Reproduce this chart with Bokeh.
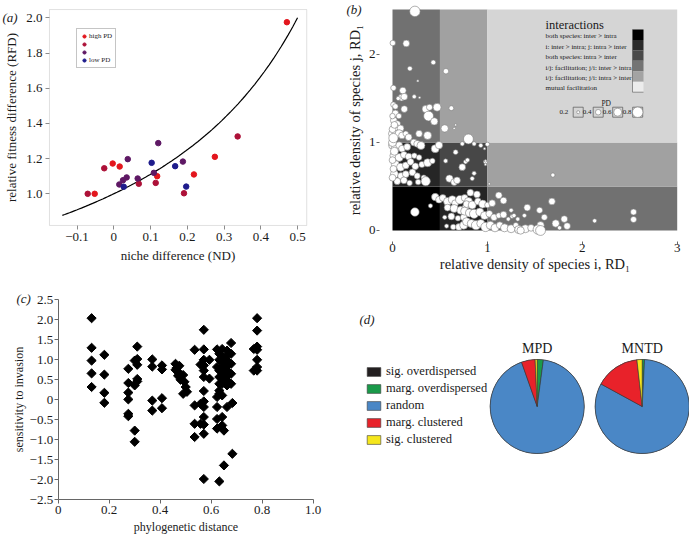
import numpy as np
from bokeh.plotting import figure
from bokeh.models import (Range1d, FixedTicker, Legend, LegendItem, Label, ColumnDataSource,
                          BoxAnnotation)
from bokeh.layouts import row, column
from bokeh.embed import file_html
from bokeh.resources import INLINE
from bokeh.core.properties import value

SERIF = "Liberation Serif"
TXT = "#1a1a1a"

# ---------------- data: panel (a)
a_nd = [-0.071, -0.052, -0.026, -0.003, 0.016, 0.015, 0.025, 0.027, 0.035, 0.038, 0.065, 0.068,
        0.103, 0.109, 0.114, 0.118, 0.121, 0.167, 0.188, 0.191, 0.197, 0.218, 0.275, 0.337, 0.471]
a_rfd = [1.000, 1.000, 1.145, 1.172, 1.155, 1.053, 1.077, 1.040, 1.093, 1.197, 1.087, 1.057,
         1.176, 1.119, 1.062, 1.100, 1.288, 1.157, 1.183, 1.003, 1.041, 1.110, 1.210, 1.326, 1.975]
a_cls = [1, 0, 1, 0, 0, 2, 2, 3, 2, 2, 2, 1, 3, 2, 1, 0, 2, 3, 2, 1, 3, 0, 0, 1, 0]
a_class_labels = ["high PD", " ", "  ", "low PD"]
a_class_colors = ["#e3161d", "#ad1138", "#5e1864", "#1e1c8c"]
a_xticks = [-0.1, 0.0, 0.1, 0.2, 0.3, 0.4, 0.5]
a_xlabels = ["\u22120.1", "0", "0.1", "0.2", "0.3", "0.4", "0.5"]
a_yticks = [1.0, 1.2, 1.4, 1.6, 1.8, 2.0]
a_ylabels = ["1.0", "1.2", "1.4", "1.6", "1.8", "2.0"]
a_box = (-0.175, 0.525, 0.82, 2.047)

# ---------------- data: panel (b)
b_box = (0.0, 3.0, 0.0, 2.51)
b_reg_x0 = [0, 0.5, 0, 0.5, 0, 0.5, 1, 1, 1]
b_reg_x1 = [0.5, 1, 0.5, 1, 0.5, 1, 3, 3, 3]
b_reg_y0 = [0, 0, 0.5, 0.5, 1, 1, 0, 0.5, 1]
b_reg_y1 = [0.5, 0.5, 1, 1, 2.51, 2.51, 0.5, 1, 2.51]
b_reg_col = ["#000000", "#242424", "#262626", "#474747", "#717171", "#a1a1a1", "#717171", "#a1a1a1", "#d5d5d5"]
b_leg_labels = ["both species: inter > intra", "i: inter > intra; j: intra > inter",
                "both species: intra > inter", "i/j: facilitation; j/i: inter > intra",
                "i/j: facilitation; j/i: intra > inter", "mutual facilitation"]
b_leg_cols = ["#000000", "#2a2a2a", "#4a4a4a", "#747474", "#a3a3a3", "#ececec"]
b_pd_keys = [0.2, 0.4, 0.6, 0.8]
b_pts = [
    (0.236, 2.49, 0.8), (0.003, 2.13, 0.4), (0.145, 2.125, 0.5), (0.43, 1.91, 0.35), (0.183, 1.84, 0.35),
    (0.563, 1.81, 0.4), (0.267, 1.70, 0.15), (0.01, 1.62, 0.4), (0.109, 1.59, 0.5), (0.095, 1.51, 0.5),
    (0.124, 1.52, 0.5), (0.06, 1.50, 0.3), (0.229, 1.52, 0.3), (0.285, 1.51, 0.15), (0.01, 1.43, 0.4),
    (0.03, 1.41, 0.4), (0.124, 1.38, 0.5), (0.35, 1.38, 0.55), (0.39, 1.40, 0.45), (0.47, 1.40, 0.6),
    (0.62, 1.39, 0.35), (0.03, 1.33, 0.5), (0.067, 1.30, 0.4), (0.38, 1.30, 0.75), (0.44, 1.24, 0.55),
    (0.55, 1.16, 0.55), (0.665, 1.20, 0.15), (0.65, 1.16, 0.15), (0.014, 1.25, 0.5), (0.05, 1.21, 0.5),
    (0.025, 1.17, 0.6), (0.085, 1.16, 0.5), (0.0, 1.10, 0.6), (0.03, 1.10, 0.5), (0.07, 1.10, 0.6),
    (0.1, 1.08, 0.5), (0.14, 1.10, 0.4), (0.17, 1.06, 0.5), (0.28, 1.10, 0.5), (0.37, 1.08, 0.6),
    (0.225, 1.0, 0.5), (0.26, 0.985, 0.5), (0.30, 0.966, 0.6), (0.0, 0.97, 0.6), (0.03, 0.94, 0.6),
    (0.07, 0.97, 0.5), (0.1, 0.93, 0.5), (0.155, 0.95, 0.5), (0.80, 1.04, 0.75), (0.45, 0.93, 0.6),
    (0.49, 0.97, 0.55), (0.665, 0.89, 0.35), (0.735, 0.985, 0.3), (0.015, 0.85, 0.6), (0.07, 0.83, 0.6),
    (0.12, 0.86, 0.5), (0.17, 0.84, 0.5), (0.23, 0.85, 0.4), (0.28, 0.83, 0.4), (0.03, 0.75, 0.6),
    (0.085, 0.72, 0.6), (0.14, 0.74, 0.5), (0.19, 0.78, 0.5), (0.24, 0.73, 0.5), (0.31, 0.75, 0.45),
    (0.37, 0.77, 0.6), (0.42, 0.79, 0.4), (0.56, 0.79, 0.3), (0.77, 0.78, 0.3), (0.02, 0.64, 0.6),
    (0.09, 0.62, 0.5), (0.14, 0.64, 0.5), (0.21, 0.66, 0.5), (0.26, 0.62, 0.45), (0.33, 0.60, 0.4),
    (0.05, 0.56, 0.5), (0.12, 0.57, 0.5), (0.18, 0.54, 0.4), (0.27, 0.55, 0.4), (0.35, 0.56, 0.7),
    (0.60, 0.59, 0.55), (0.65, 0.55, 0.5), (0.68, 0.57, 0.5), (0.236, 0.21, 0.65), (0.40, 0.28, 0.3),
    (0.45, 0.38, 0.55), (0.49, 0.35, 0.5), (0.53, 0.37, 0.5), (0.58, 0.33, 0.6), (0.63, 0.35, 0.6),
    (0.66, 0.31, 0.5), (0.71, 0.35, 0.65), (0.76, 0.37, 0.5), (0.80, 0.33, 0.6), (0.58, 0.26, 0.5),
    (0.65, 0.25, 0.6), (0.72, 0.23, 0.6), (0.77, 0.26, 0.5), (0.55, 0.15, 0.3), (0.62, 0.16, 0.5),
    (0.69, 0.14, 0.4), (0.75, 0.15, 0.5), (0.57, 0.05, 0.3), (0.64, 0.04, 0.4), (0.70, 0.04, 0.5),
    (0.75, 0.06, 0.6), (0.86, 0.985, 0.3), (0.93, 0.966, 0.3), (1.0, 0.98, 0.3), (0.79, 0.80, 0.3),
    (0.98, 0.78, 0.3), (0.735, 0.72, 0.5), (0.86, 0.65, 0.3), (0.84, 0.59, 0.3), (1.02, 0.53, 0.15),
    (1.12, 0.40, 0.5), (1.17, 0.34, 0.5), (0.82, 0.43, 0.5), (0.89, 0.41, 0.5), (0.78, 0.30, 0.5),
    (0.84, 0.29, 0.6), (0.90, 0.33, 0.5), (0.95, 0.30, 0.6), (1.00, 0.29, 0.4), (1.05, 0.31, 0.5),
    (0.76, 0.22, 0.6), (0.81, 0.20, 0.6), (0.86, 0.19, 0.7), (0.92, 0.21, 0.6), (0.97, 0.17, 0.6),
    (1.02, 0.19, 0.5), (1.07, 0.15, 0.5), (1.12, 0.17, 0.4), (1.17, 0.18, 0.5), (1.22, 0.13, 0.3),
    (1.26, 0.16, 0.3), (0.78, 0.10, 0.6), (0.83, 0.08, 0.6), (0.88, 0.06, 0.7), (0.93, 0.08, 0.6),
    (0.98, 0.04, 0.7), (1.03, 0.06, 0.6), (1.08, 0.03, 0.6), (1.13, 0.06, 0.5), (1.18, 0.03, 0.6),
    (1.25, 0.02, 0.6), (1.30, 0.06, 0.4), (1.42, 0.26, 0.5), (1.55, 0.23, 0.45), (1.60, 0.15, 0.45),
    (1.56, 0.06, 0.55), (1.33, 0.01, 0.6), (1.40, 0.02, 0.6), (1.46, 0.03, 0.5), (1.53, 0.01, 0.7),
    (0.97, 0.93, 0.15), (0.98, 0.79, 0.15), (0.98, 0.75, 0.15), (1.69, 0.63, 0.3), (1.68, 0.33, 0.5),
    (1.81, 0.13, 0.5), (1.72, 0.08, 0.55), (1.84, 0.05, 0.5), (2.13, 0.11, 0.3), (2.54, 0.21, 0.45),
    (2.54, 0.125, 0.45), (1.56, 0.0, 0.75), (1.35, 0.0, 0.55), (1.32, 0.13, 0.3), (1.28, 0.17, 0.3),
    (1.25, 0.23, 0.3), (1.39, 0.17, 0.3), (1.76, 0.03, 0.3), (0.0, 0.60, 0.5), (0.01, 0.70, 0.5),
    (0.0, 0.80, 0.5), (0.02, 0.90, 0.6), (0.0, 1.00, 0.6), (0.01, 1.05, 0.7), (0.0, 1.15, 0.5),
    (0.02, 1.20, 0.5), (0.0, 1.30, 0.4),
]
b_rdi = [p[0] for p in b_pts]
b_rdj = [p[1] for p in b_pts]
b_pd = [p[2] for p in b_pts]

# ---------------- data: panel (c)
c_pts = [
    (0.131, 2.04), (0.131, 1.30), (0.131, 0.98), (0.131, 0.66), (0.131, 0.32),
    (0.181, 1.125), (0.181, 0.63), (0.181, 0.175), (0.181, -0.075),
    (0.275, 0.775), (0.275, 0.42), (0.275, 0.18), (0.275, 0.01), (0.275, -0.35), (0.275, -0.41),
    (0.300, 0.98), (0.300, 0.36), (0.300, -0.77), (0.300, -1.05),
    (0.310, 1.33), (0.310, 1.02), (0.310, 0.875), (0.310, 0.52), (0.310, 0.46),
    (0.369, 1.01), (0.369, 0.83), (0.369, -0.02), (0.369, -0.27),
    (0.407, 0.86), (0.407, 0.76), (0.407, 0.04), (0.407, -0.21),
    (0.46, 0.90), (0.465, 0.80), (0.47, 0.70), (0.47, 0.60), (0.48, 0.50), (0.49, 0.62), (0.495, 0.45),
    (0.50, 0.32), (0.505, 0.20), (0.49, 0.15), (0.46, 0.75), (0.475, 0.85),
    (0.535, 1.25), (0.535, -0.14), (0.535, -0.60), (0.535, -0.93),
    (0.571, 1.75), (0.571, 1.26), (0.571, 1.0), (0.571, 0.86), (0.571, 0.73), (0.571, 0.57),
    (0.571, 0.22), (0.571, -0.04), (0.571, -0.18), (0.571, -0.43), (0.571, -0.62), (0.571, -0.85),
    (0.571, -1.98), (0.558, 0.88), (0.558, -0.10), (0.558, -0.60), (0.593, 0.53), (0.593, 1.0),
    (0.623, 1.26), (0.623, 0.82), (0.623, 0.07), (0.623, -0.18), (0.623, -0.48), (0.623, -0.72),
    (0.632, -2.04), (0.632, 1.15), (0.632, 1.0), (0.632, 0.73), (0.632, 0.57), (0.632, 0.40),
    (0.632, 0.23), (0.632, 0.15), (0.643, 1.27), (0.643, 0.82), (0.643, 0.40), (0.643, 0.11),
    (0.643, -0.43), (0.643, -0.64), (0.650, 1.05), (0.650, 0.90), (0.650, 0.65), (0.650, 0.48),
    (0.650, -0.77), (0.650, -1.64), (0.662, 1.23), (0.662, 1.10), (0.662, 0.98), (0.662, 0.86),
    (0.662, 0.73), (0.662, 0.61), (0.662, 0.48), (0.662, 0.36), (0.662, -0.18),
    (0.678, 1.42), (0.678, 1.15), (0.678, 0.90), (0.678, 0.65), (0.678, 0.40),
    (0.683, -0.08), (0.683, -1.35),
    (0.780, 2.04), (0.780, 1.73), (0.780, 1.33), (0.780, 1.25), (0.780, 1.0), (0.780, 0.82), (0.780, 0.73),
    (0.767, 1.27), (0.767, 0.73),
]
c_dist = [p[0] for p in c_pts]
c_sens = [p[1] for p in c_pts]
c_box = (0.0, 1.0, -2.5, 2.5)
c_xticks = [0.0, 0.2, 0.4, 0.6, 0.8, 1.0]
c_xlabels = ["0", "0.2", "0.4", "0.6", "0.8", "1.0"]
c_yticks = [-2.5, -2.0, -1.5, -1.0, -0.5, 0.0, 0.5, 1.0, 1.5, 2.0, 2.5]
c_ylabels = ["\u22122.5", "\u22122.0", "\u22121.5", "\u22121.0", "\u22120.5", "0", "0.5", "1.0", "1.5", "2.0", "2.5"]

# ---------------- data: panel (d)
d_categories = ["sig. overdispersed", "marg. overdispersed", "random", "marg. clustered", "sig. clustered"]
d_colors = ["#231f20", "#1a9a4a", "#4a87c6", "#e8222a", "#f5e61c"]
d_mpd_pct = [0.0, 2.1, 92.5, 4.7, 0.7]
d_mntd_pct = [0.0, 0.8, 82.15, 15.25, 1.8]
d_titles = ["MPD", "MNTD"]


def base_fig(w, h, xr, yr, **kw):
    # the frame fills the whole canvas; axes are drawn at fixed data locations
    p = figure(width=w, height=h, x_range=Range1d(*xr), y_range=Range1d(*yr),
               output_backend="svg", toolbar_location=None, min_border=0, **kw)
    p.grid.visible = False
    p.background_fill_color = "white"
    p.border_fill_color = "white"
    p.outline_line_color = None
    return p


def style_axes(p, box, tick_px, lab_px):
    p.xaxis.fixed_location = box[2]
    p.yaxis.fixed_location = box[0]
    p.xaxis.bounds = (box[0], box[1])
    p.yaxis.bounds = (box[2], box[3])
    for ax in p.axis:
        ax.major_label_text_font = SERIF
        ax.major_label_text_font_size = tick_px
        ax.major_label_text_color = TXT
        ax.axis_label_text_font = SERIF
        ax.axis_label_text_font_size = lab_px
        ax.axis_label_text_font_style = "normal"
        ax.axis_label_text_color = TXT
        ax.minor_tick_line_color = None


# ================= panel (a)  (canvas: page x 0..345, y 0..275)
pa = base_fig(345, 275, (-0.3083, 0.6305), (0.5358, 2.0983))
pa.add_layout(BoxAnnotation(left=a_box[0], right=a_box[1], bottom=a_box[2], top=a_box[3],
                            fill_alpha=0, line_color="#9c9c9c", line_width=1))
curve_nd = np.linspace(-0.14, 0.5, 100)
pa.line(curve_nd, 1.0 / (1.0 - curve_nd), line_color="black", line_width=1.2)
a_items = []
for k in range(4):
    xs = [a_nd[i] for i in range(len(a_nd)) if a_cls[i] == k]
    ys = [a_rfd[i] for i in range(len(a_nd)) if a_cls[i] == k]
    r = pa.scatter(xs, ys, marker="circle", size=5.5, fill_color=a_class_colors[k], line_color=a_class_colors[k])
    a_items.append(LegendItem(label=a_class_labels[k], renderers=[r]))
leg_a = Legend(items=a_items, location=(76, 207), label_text_font=SERIF, label_text_font_size="7px",
               label_text_color=TXT, glyph_width=8, glyph_height=8, label_height=7, label_standoff=1,
               spacing=0, padding=3, margin=0, border_line_color="#8c8c8c", border_line_width=0.8,
               background_fill_color="white")
pa.add_layout(leg_a)
pa.xaxis.ticker = FixedTicker(ticks=a_xticks)
pa.xaxis.major_label_overrides = dict(zip(a_xticks, a_xlabels))
pa.yaxis.ticker = FixedTicker(ticks=a_yticks)
pa.yaxis.major_label_overrides = dict(zip(a_yticks, a_ylabels))
pa.xaxis.axis_label = "niche difference (ND)"
pa.yaxis.axis_label = "relative fitness difference (RFD)"
style_axes(pa, a_box, "13px", "13px")
for ax in pa.axis:
    ax.axis_line_color = None
    ax.major_tick_line_color = "#8c8c8c"
    ax.major_tick_in = 0
    ax.major_tick_out = 4
    ax.major_label_standoff = 3
    ax.axis_label_standoff = 4
pa.xaxis.major_label_standoff = 4
pa.xaxis.axis_label_standoff = 3
pa.add_layout(Label(x=-0.303, y=2.0, text="(a)", text_font=SERIF, text_font_size="13px",
                    text_font_style="italic", text_baseline="middle", text_color=TXT))

# ================= panel (b)  (canvas: page x 345..689, y 0..275)
pb = base_fig(344, 275, (-0.4953, 3.1296), (-0.5114, 2.6136))
pb.quad(left=b_reg_x0, right=b_reg_x1, bottom=b_reg_y0, top=b_reg_y1, fill_color=b_reg_col, line_color=None)
b_sizes = [12.5 * v + 0.5 for v in b_pd]
pb.scatter(b_rdi, b_rdj, marker="circle", size=b_sizes, fill_color="white", line_color="#7a7a7a", line_width=0.6)


def bx(px):
    return (px - 392) / 94.9


def by(py):
    return (230 - py) / 88.0


pb.text(x=[bx(545)], y=[by(25)], text=["interactions"], text_font=value(SERIF), text_font_size=value("12.5px"),
        text_baseline="middle", text_color=TXT)
leg_rows_py = [36 + 10.35 * i for i in range(len(b_leg_labels))]
pb.text(x=[bx(545)] * len(b_leg_labels), y=[by(v) for v in leg_rows_py], text=b_leg_labels,
        text_font=value(SERIF), text_font_size=value("7px"), text_baseline="middle", text_color=TXT)
bar_top = [by(29 + 10.45 * i) for i in range(6)]
bar_bot = [by(29 + 10.45 * (i + 1)) for i in range(6)]
pb.quad(left=bx(632), right=bx(643), top=bar_top, bottom=bar_bot, fill_color=b_leg_cols, line_color=None)
pb.line([bx(632), bx(632), bx(643)], [by(29), by(91.7), by(91.7)], line_color="#555555", line_width=0.6)
pb.text(x=[bx(605.7)], y=[by(103.3)], text=["PD"], text_font=value(SERIF), text_font_size=value("7.5px"),
        text_align="center", text_baseline="middle", text_color=TXT)
box_px = [577.7, 597.7, 617.2, 637.2]
lab_px = [563.3, 586.7, 606.7, 626.7]
pb.rect(x=[bx(v) for v in box_px], y=[by(111.7)] * 4, width=10, height=10, width_units="screen",
        height_units="screen", fill_color=None, line_color="#555555", line_width=0.7)
pb.scatter(x=[bx(v) for v in box_px], y=[by(111.7)] * 4, marker="circle", size=[12.5 * v + 0.5 for v in b_pd_keys],
           fill_color="white", line_color="#7a7a7a", line_width=0.6)
pb.text(x=[bx(v) for v in lab_px], y=[by(111.7)] * 4, text=[f"{v:.1f}" for v in b_pd_keys],
        text_font=value(SERIF), text_font_size=value("7px"), text_align="center", text_baseline="middle",
        text_color=TXT)
pb.xaxis.ticker = FixedTicker(ticks=[0, 1, 2, 3])
pb.yaxis.ticker = FixedTicker(ticks=[0, 1, 2])
pb.xaxis.axis_label = "relative density of species i, RD\u2081"
pb.yaxis.axis_label = "relative density of species j, RD\u2081"
style_axes(pb, b_box, "13px", "14.5px")
for ax in pb.axis:
    ax.axis_line_color = None
    ax.major_tick_line_color = "#666666"
    ax.major_label_standoff = 1
pb.xaxis.major_tick_in = -11
pb.xaxis.major_tick_out = 14
pb.xaxis.major_label_standoff = 0
pb.xaxis.axis_label_standoff = 0
pb.yaxis.major_tick_in = -13
pb.yaxis.major_tick_out = 16
pb.yaxis.axis_label_standoff = 3
pb.add_layout(Label(x=bx(346), y=by(9), text="(b)", text_font=SERIF, text_font_size="13px",
                    text_font_style="italic", text_baseline="middle", text_color=TXT))

# ================= panel (c)  (canvas: page x 0..345, y 275..537)
pc = base_fig(345, 262, (-0.2263, 1.1267), (-3.4425, 3.1075))
pc.scatter(c_dist, c_sens, marker="square", angle=np.pi / 4, size=6.5, fill_color="black", line_color="black")
pc.xaxis.ticker = FixedTicker(ticks=c_xticks)
pc.xaxis.major_label_overrides = dict(zip(c_xticks, c_xlabels))
pc.yaxis.ticker = FixedTicker(ticks=c_yticks)
pc.yaxis.major_label_overrides = dict(zip(c_yticks, c_ylabels))
pc.xaxis.axis_label = "phylogenetic distance"
pc.yaxis.axis_label = "sensitivity to invasion"
style_axes(pc, c_box, "13px", "12px")
for ax in pc.axis:
    ax.axis_line_color = "#666666"
    ax.major_tick_line_color = "#666666"
    ax.major_tick_in = 0
    ax.major_tick_out = 4
    ax.major_label_standoff = 1
    ax.axis_label_standoff = 1
pc.xaxis.major_label_standoff = 2
pc.xaxis.axis_label_standoff = 3
pc.add_layout(Label(x=-0.1635, y=2.5325, text="(c)", text_font=SERIF, text_font_size="13px",
                    text_font_style="italic", text_baseline="middle", text_color=TXT))

# ================= panel (d)  (canvas: page x 345..689, y 275..537)
pdd = base_fig(344, 262, (0, 344), (0, 262), x_axis_location=None, y_axis_location=None)
pie_cx = [191.7, 296.7]
pie_cy = 131.0
pie_r = 47.0
rows = dict(x=[], y=[], start=[], end=[], color=[], label=[])
for pcx, pct in zip(pie_cx, [d_mpd_pct, d_mntd_pct]):
    frac = np.array(pct) / sum(pct)
    cum = np.concatenate([[0], np.cumsum(frac)])
    for i, cat in enumerate(d_categories):
        rows["x"].append(pcx)
        rows["y"].append(pie_cy)
        rows["start"].append(np.pi / 2 - 2 * np.pi * cum[i + 1])
        rows["end"].append(np.pi / 2 - 2 * np.pi * cum[i])
        rows["color"].append(d_colors[i])
        rows["label"].append(cat)
src = ColumnDataSource(rows)
pdd.wedge(x="x", y="y", radius=pie_r, start_angle="start", end_angle="end", fill_color="color",
          line_color="#3a3a3a", line_width=0.6, source=src, legend_field="label")
leg_d = pdd.legend[0]
leg_d.location = (20, 90)
leg_d.label_text_font = SERIF
leg_d.label_text_font_size = "12.5px"
leg_d.label_text_color = TXT
leg_d.glyph_width = 17
leg_d.glyph_height = 11
leg_d.label_height = 15
leg_d.label_standoff = 4
leg_d.spacing = 2
leg_d.padding = 0
leg_d.margin = 0
leg_d.border_line_color = None
leg_d.background_fill_alpha = 0
pdd.text(x=pie_cx, y=[pie_cy + pie_r + 11] * 2, text=d_titles, text_font=value(SERIF),
         text_font_size=value("14px"), text_align="center", text_baseline="middle", text_color=TXT)
pdd.add_layout(Label(x=14, y=218, text="(d)", text_font=SERIF, text_font_size="13px",
                     text_font_style="italic", text_baseline="middle", text_color=TXT))

layout = row(column(pa, pc), column(pb, pdd))
open("out.html", "w").write(file_html(layout, INLINE))
